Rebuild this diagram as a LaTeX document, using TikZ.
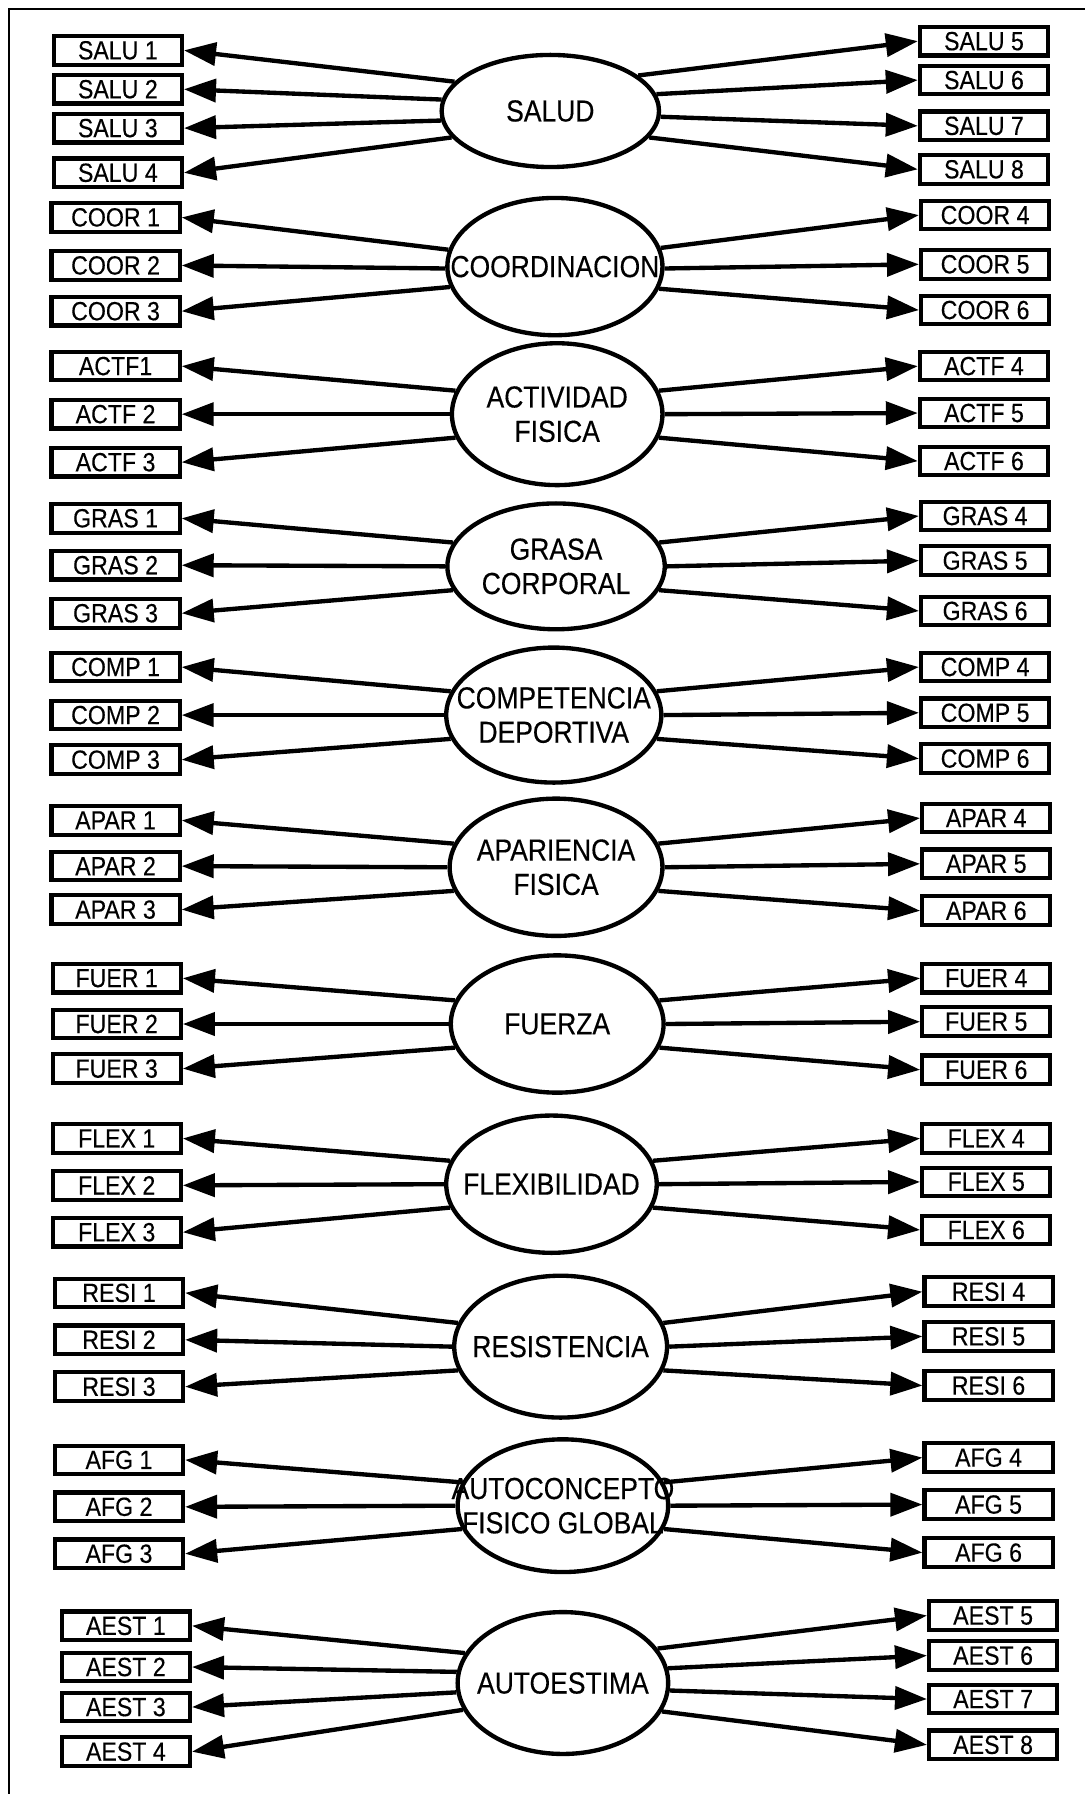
\documentclass[tikz,border=0pt]{standalone}
\usepackage{fontspec}
\setmainfont{Liberation Sans}
\newfontfamily\latfont[FakeStretch=0.87,FakeBold=0.3]{Liberation Sans}
\newfontfamily\boxfont[FakeStretch=0.88,FakeBold=0.3]{Liberation Sans}
\usetikzlibrary{shapes.geometric,arrows.meta}
\tikzset{
  lat/.style={draw, ellipse, line width=1.9pt, inner sep=0pt},
  lattxt/.style={font=\latfont\fontsize{13.3}{15}\selectfont, align=center, inner sep=0pt},
  ind/.style={draw, rectangle, line width=1.8pt, minimum width=56pt, minimum height=12.5pt,
              inner sep=0pt, font=\boxfont\fontsize{11.5}{12}\selectfont},
  load/.style={line width=1.9pt, -{Triangle[length=14pt,width=10pt]}},
  frame/.style={line width=1pt}
}
\begin{document}
\begin{tikzpicture}[x=0.5pt,y=-0.5pt]
\useasboundingbox (0,0) rectangle (954,1568);
\fill[white] (0,0) rectangle (954,1568);
\coordinate (fa) at (8,1568);
\coordinate (fb) at (8,8);
\coordinate (fc) at (948,8);
\draw[frame] (fa) -- (fb) -- (fc);

% SALUD
\node[lat, minimum width=95pt, minimum height=49pt] (salud) at (481,97) {};
\node[lattxt] (saludt) at (salud) {SALUD};
\foreach \n/\y/\a in {1/44/163, 2/78/174, 3/112/185, 4/151/195}
  {\node[ind] (salu\n) at (103,\y) {SALU \n}; \draw[load] (salud.\a) -- (salu\n.east);}
\foreach \n/\y/\a in {5/36/22, 6/70/9, 7/110/-3, 8/148/-15}
  {\node[ind] (salu\n) at (860,\y) {SALU \n}; \draw[load] (salud.\a) -- (salu\n.west);}

% COORDINACION
\node[lat, minimum width=94pt, minimum height=60pt] (coord) at (485,233) {};
\node[lattxt] (coordt) at (coord) {COORDINACION};
\foreach \n/\y/\a in {1/190/171, 2/232/181, 3/272/191}
  {\node[ind] (coor\n) at (101,\y) {COOR \n}; \draw[load] (coord.\a) -- (coor\n.east);}
\foreach \n/\y/\a in {4/188/10, 5/231/-1, 6/271/-12}
  {\node[ind] (coor\n) at (861,\y) {COOR \n}; \draw[load] (coord.\a) -- (coor\n.west);}

% ACTIVIDAD FISICA
\node[lat, minimum width=92pt, minimum height=62pt] (actf) at (487,362) {};
\node[lattxt] (actft) at (actf) {ACTIVIDAD\\FISICA};
\foreach \n/\lab/\y/\a in {1/ACTF1/320/167, 2/ACTF 2/362/180, 3/ACTF 3/404/193}
  {\node[ind] (actf\n) at (101,\y) {\lab}; \draw[load] (actf.\a) -- (actf\n.east);}
\foreach \n/\y/\a in {4/320/13, 5/361/0, 6/403/-13}
  {\node[ind] (actf\n) at (860,\y) {ACTF \n}; \draw[load] (actf.\a) -- (actf\n.west);}

% GRASA CORPORAL
\node[lat, minimum width=95pt, minimum height=55pt] (gras) at (486,495) {};
\node[lattxt] (grast) at (gras) {GRASA\\CORPORAL};
\foreach \n/\y/\a in {1/453/167, 2/494/180, 3/536/193}
  {\node[ind] (gras\n) at (101,\y) {GRAS \n}; \draw[load] (gras.\a) -- (gras\n.east);}
\foreach \n/\y/\a in {4/451/13, 5/490/0, 6/534/-13}
  {\node[ind] (gras\n) at (861,\y) {GRAS \n}; \draw[load] (gras.\a) -- (gras\n.west);}

% COMPETENCIA DEPORTIVA
\node[lat, minimum width=94pt, minimum height=59pt] (comp) at (484,625) {};
\node[lattxt] (compt) at (comp) {COMPETENCIA\\DEPORTIVA};
\foreach \n/\y/\a in {1/583/167, 2/625/180, 3/664/193}
  {\node[ind] (comp\n) at (101,\y) {COMP \n}; \draw[load] (comp.\a) -- (comp\n.east);}
\foreach \n/\y/\a in {4/583/13, 5/623/0, 6/663/-13}
  {\node[ind] (comp\n) at (861,\y) {COMP \n}; \draw[load] (comp.\a) -- (comp\n.west);}

% APARIENCIA FISICA
\node[lat, minimum width=93pt, minimum height=60pt] (apar) at (486,758) {};
\node[lattxt] (apart) at (apar) {APARIENCIA\\FISICA};
\foreach \n/\y/\a in {1/717/167, 2/757/180, 3/795/193}
  {\node[ind] (apar\n) at (101,\y) {APAR \n}; \draw[load] (apar.\a) -- (apar\n.east);}
\foreach \n/\y/\a in {4/715/13, 5/755/0, 6/796/-13}
  {\node[ind] (apar\n) at (862,\y) {APAR \n}; \draw[load] (apar.\a) -- (apar\n.west);}

% FUERZA
\node[lat, minimum width=93pt, minimum height=60pt] (fuer) at (487,895) {};
\node[lattxt] (fuert) at (fuer) {FUERZA};
\foreach \n/\y/\a in {1/855/167, 2/895/180, 3/934/193}
  {\node[ind] (fuer\n) at (102,\y) {FUER \n}; \draw[load] (fuer.\a) -- (fuer\n.east);}
\foreach \n/\y/\a in {4/855/13, 5/893/0, 6/935/-13}
  {\node[ind] (fuer\n) at (862,\y) {FUER \n}; \draw[load] (fuer.\a) -- (fuer\n.west);}

% FLEXIBILIDAD
\node[lat, minimum width=92pt, minimum height=60pt] (flex) at (482,1035) {};
\node[lattxt] (flext) at (flex) {FLEXIBILIDAD};
\foreach \n/\y/\a in {1/995/167, 2/1036/180, 3/1077/193}
  {\node[ind] (flex\n) at (102,\y) {FLEX \n}; \draw[load] (flex.\a) -- (flex\n.east);}
\foreach \n/\y/\a in {4/995/13, 5/1033/0, 6/1075/-13}
  {\node[ind] (flex\n) at (862,\y) {FLEX \n}; \draw[load] (flex.\a) -- (flex\n.west);}

% RESISTENCIA
\node[lat, minimum width=93pt, minimum height=62pt] (resi) at (490,1177) {};
\node[lattxt] (resit) at (resi) {RESISTENCIA};
\foreach \n/\y/\a in {1/1130/167, 2/1171/180, 3/1212/193}
  {\node[ind] (resi\n) at (104,\y) {RESI \n}; \draw[load] (resi.\a) -- (resi\n.east);}
\foreach \n/\y/\a in {4/1129/13, 5/1168/0, 6/1211/-13}
  {\node[ind] (resi\n) at (864,\y) {RESI \n}; \draw[load] (resi.\a) -- (resi\n.west);}

% AUTOCONCEPTO FISICO GLOBAL
\node[lat, minimum width=92pt, minimum height=58pt] (afg) at (492,1316) {};
\node[lattxt] (afgt) at (afg) {AUTOCONCEPTO\\FISICO GLOBAL};
\foreach \n/\y/\a in {1/1276/167, 2/1317/180, 3/1358/193}
  {\node[ind] (afg\n) at (104,\y) {AFG \n}; \draw[load] (afg.\a) -- (afg\n.east);}
\foreach \n/\y/\a in {4/1274/13, 5/1315/0, 6/1357/-13}
  {\node[ind] (afg\n) at (864,\y) {AFG \n}; \draw[load] (afg.\a) -- (afg\n.west);}

% AUTOESTIMA
\node[lat, minimum width=92pt, minimum height=62pt] (aest) at (492,1471) {};
\node[lattxt] (aestt) at (aest) {AUTOESTIMA};
\foreach \n/\y/\a in {1/1421/163, 2/1457/174, 3/1492/185, 4/1531/195}
  {\node[ind] (aest\n) at (110,\y) {AEST \n}; \draw[load] (aest.\a) -- (aest\n.east);}
\foreach \n/\y/\a in {5/1412/20, 6/1447/8, 7/1485/-4, 8/1525/-16}
  {\node[ind] (aest\n) at (868,\y) {AEST \n}; \draw[load] (aest.\a) -- (aest\n.west);}
\end{tikzpicture}
\end{document}
